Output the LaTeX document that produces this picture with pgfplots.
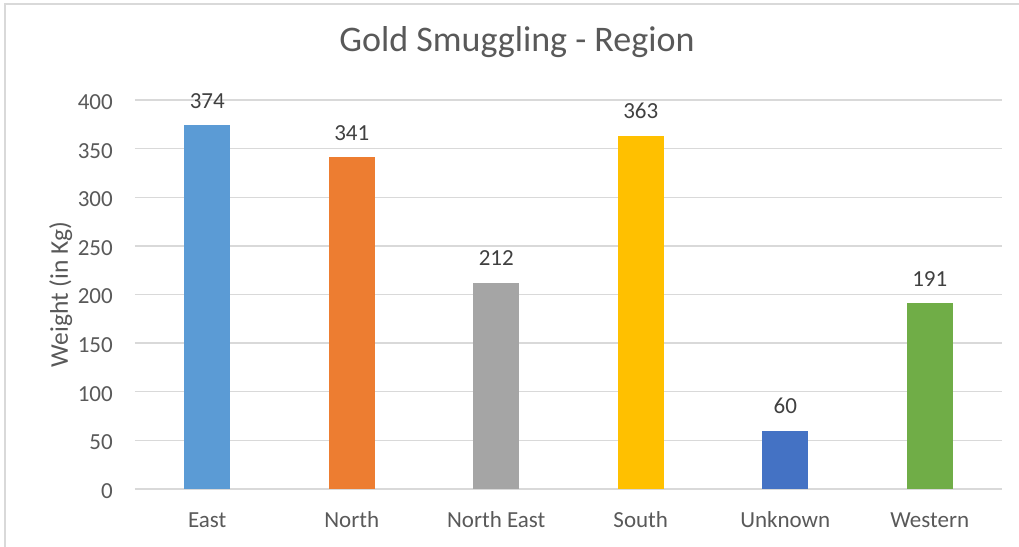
\documentclass[border=0pt]{standalone}
\usepackage{pgfplots}
\pgfplotsset{compat=1.18}
\usepackage{fontspec}
\setmainfont{Carlito}
\definecolor{cEast}{HTML}{5B9BD5}
\definecolor{cNorth}{HTML}{ED7D31}
\definecolor{cNE}{HTML}{A5A5A5}
\definecolor{cSouth}{HTML}{FFC000}
\definecolor{cUnk}{HTML}{4472C4}
\definecolor{cWest}{HTML}{70AD47}
\definecolor{gridc}{HTML}{D9D9D9}
\definecolor{tickc}{HTML}{595959}
\definecolor{labelc}{HTML}{404040}
\begin{document}
\begin{tikzpicture}[x=1pt,y=1pt]
\useasboundingbox (-135,-57) rectangle (884,489);
\draw[color=gridc, line width=1.2pt] (-130,-80) rectangle (900,485);
\begin{axis}[
  at={(0,0)}, anchor=south west,
  scale only axis, width=867pt, height=389pt,
  xmin=-0.5, xmax=5.5, ymin=0, ymax=400,
  xtick={0,1,2,3,4,5},
  xticklabels={East,North,North East,South,Unknown,Western},
  ytick={0,50,...,400},
  ymajorgrids, grid style={color=gridc, line width=1.3pt},
  axis line style={draw=none},
  major tick length=0pt,
  /pgf/number format/assume math mode=true,
  tick label style={font=\fontsize{23}{27}\selectfont, text=tickc},
  yticklabel style={anchor=east, inner sep=0pt, xshift=-22pt, yshift=-2pt},
  xticklabel style={anchor=base, inner sep=0pt, yshift=-38pt},
  ylabel={Weight (in Kg)},
  ylabel style={font=\fontsize{25.5}{30}\selectfont, text=tickc, at={(axis description cs:-0.0773,0.5)}, anchor=base, rotate=0},
  title={Gold Smuggling - Region},
  title style={font=\fontsize{36}{40}\selectfont, text=tickc, at={(axis description cs:0.4406,1.108)}, anchor=base, inner sep=0pt},
  ybar, bar width=46pt, bar shift=0pt,
  nodes near coords,
  nodes near coords style={font=\fontsize{23}{27}\selectfont, text=labelc, anchor=base, inner sep=0pt, yshift=17pt},
  clip=false,
]
\addplot[fill=cEast, draw=none] coordinates {(0,374)};
\addplot[fill=cNorth, draw=none] coordinates {(1,341)};
\addplot[fill=cNE, draw=none] coordinates {(2,212)};
\addplot[fill=cSouth, draw=none] coordinates {(3,363)};
\addplot[fill=cUnk, draw=none] coordinates {(4,60)};
\addplot[fill=cWest, draw=none] coordinates {(5,191)};
\end{axis}
\end{tikzpicture}
\end{document}
